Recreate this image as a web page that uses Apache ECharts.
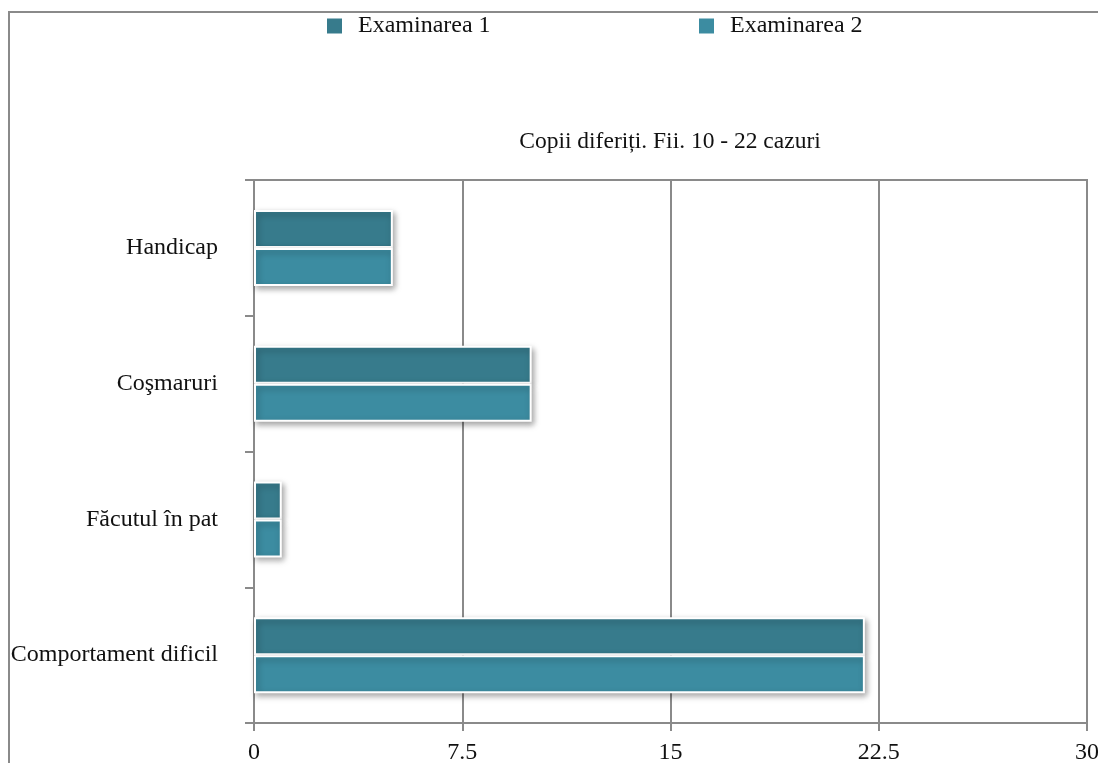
<!DOCTYPE html>
<html>
<head>
<meta charset="utf-8">
<script src="https://cdn.jsdelivr.net/npm/echarts@6/dist/echarts.min.js"></script>
<style>html,body{margin:0;padding:0;background:#fff;}#c{width:1098px;height:763px;}</style>
</head>
<body>
<div id="c"></div>
<script>
const categories = ['Comportament dificil', 'Făcutul în pat', 'Coşmaruri', 'Handicap'];
const exam1 = [22, 1, 10, 5];
const exam2 = [22, 1, 10, 5];
const seriesNames = ['Examinarea 1', 'Examinarea 2'];
const titleText = 'Copii diferiți. Fii. 10 - 22 cazuri';
const xTicks = { min: 0, max: 30, interval: 7.5 };

const FONT = 'Liberation Serif';
const chart = echarts.init(document.getElementById('c'));
const barStyle = (color) => ({
  color: color,
  borderColor: '#ffffff',
  borderWidth: 2,
  shadowBlur: 6,
  shadowColor: 'rgba(0,0,0,0.35)',
  shadowOffsetX: 2,
  shadowOffsetY: 3
});
const legendCommon = {
  itemWidth: 17, itemHeight: 17, itemGap: 0, padding: 0, icon: 'rect',
  textStyle: { fontFamily: FONT, fontSize: 24, color: '#111', padding: [0, 0, 0, 10] }
};
chart.setOption({
  animation: false,
  textStyle: { fontFamily: FONT },
  title: {
    text: titleText,
    left: 670, top: 130, textAlign: 'center', padding: 0,
    textStyle: { fontFamily: FONT, fontSize: 23.5, fontWeight: 'normal', color: '#111' }
  },
  legend: [
    Object.assign({ data: [seriesNames[0]], left: 325, top: 14 }, legendCommon),
    Object.assign({ data: [seriesNames[1]], left: 697, top: 14 }, legendCommon)
  ],
  grid: { left: 254, right: 11, top: 180, bottom: 40, show: true, borderColor: '#8a8a8a', borderWidth: 2, outerBoundsMode: 'none', containLabel: false },
  xAxis: {
    type: 'value', min: xTicks.min, max: xTicks.max, interval: xTicks.interval,
    axisLine: { show: true, lineStyle: { color: '#8a8a8a', width: 2 } },
    axisTick: { show: true, length: 8, lineStyle: { color: '#8a8a8a', width: 2 } },
    splitLine: { show: true, lineStyle: { color: '#8a8a8a', width: 2 } },
    axisLabel: { fontFamily: FONT, fontSize: 24, color: '#111', margin: 18 }
  },
  yAxis: {
    type: 'category', data: categories,
    axisLine: { show: true, lineStyle: { color: '#8a8a8a', width: 2 } },
    axisTick: { show: true, length: 9, lineStyle: { color: '#8a8a8a', width: 2 } },
    axisLabel: { fontFamily: FONT, fontSize: 24, color: '#111', margin: 36 }
  },
  series: [
    { name: seriesNames[0], type: 'bar', data: exam1, barWidth: 38, barGap: '0%', itemStyle: barStyle('#377b8c') },
    { name: seriesNames[1], type: 'bar', data: exam2, barWidth: 38, barGap: '0%', itemStyle: barStyle('#3c8ca1') }
  ],
  graphic: [
    { type: 'line', shape: { x1: 9, y1: 12, x2: 9, y2: 763 }, style: { stroke: '#8a8a8a', lineWidth: 2 } },
    { type: 'line', shape: { x1: 8, y1: 12, x2: 1098, y2: 12 }, style: { stroke: '#8a8a8a', lineWidth: 2 } }
  ]
});
</script>
</body>
</html>
